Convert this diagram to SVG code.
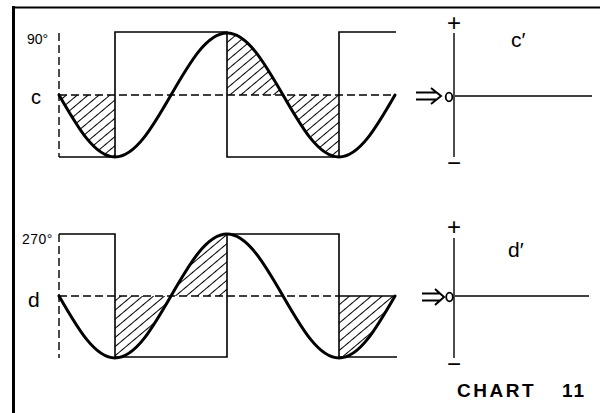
<svg xmlns="http://www.w3.org/2000/svg" width="600" height="413" viewBox="0 0 600 413">
<style>
.sq{fill:none;stroke:#000;stroke-width:1.6}
.dash{fill:none;stroke:#000;stroke-width:1.4;stroke-dasharray:8 4}
.curve{fill:none;stroke:#000;stroke-width:3;stroke-linecap:round}
.hatch{fill:url(#h);stroke:none}
.ax{fill:none;stroke:#000;stroke-width:1.4}
.lbl{font-family:"Liberation Sans",Arial,sans-serif;fill:#000}
.sign{font-family:"Liberation Sans",Arial,sans-serif;fill:#000;font-size:24px;text-anchor:middle}
.arr{fill:none;stroke:#000;stroke-width:2}
</style>
<defs>
<pattern id="h" width="7" height="7" patternUnits="userSpaceOnUse" patternTransform="rotate(50)">
<line x1="3.5" y1="0" x2="3.5" y2="7" stroke="#000" stroke-width="1"/>
</pattern>
</defs>
<rect width="600" height="413" fill="#fff"/>
<g id="frame">
<line x1="13.5" y1="6" x2="13.5" y2="413" stroke="#000" stroke-width="3"/>
<line x1="12" y1="7.5" x2="600" y2="7.5" stroke="#000" stroke-width="2"/>
</g>
<g id="panel-c">
<path class="hatch" d="M59,95 C77.3,126.8 94.7,157 115,157 L115,95 Z"/>
<path class="hatch" d="M227,95 L227,33 C247.3,33 264.7,63.2 283,95 Z"/>
<path class="hatch" d="M283,95 C301.3,126.8 318.7,157 339,157 L339,95 Z"/>
<line class="dash" x1="59" y1="33" x2="59" y2="157"/>
<line class="dash" x1="59" y1="95" x2="395" y2="95"/>
<path class="sq" d="M59,157 H115 V32 H227 V157 H339 V32 H396"/>
<path class="curve" d="M59,95 C77.3,126.8 94.7,157 115,157 C135.3,157 152.7,126.8 171,95 C189.3,63.2 206.7,33 227,33 C247.3,33 264.7,63.2 283,95 C301.3,126.8 318.7,157 339,157 C359.3,157 376.7,126.8 395,95"/>
<text class="lbl" x="27" y="44" font-size="14">90°</text>
<text class="lbl" x="31" y="104" font-size="20">c</text>
</g>
<g id="panel-d">
<path class="hatch" d="M115,296 L115,358 C135.3,358 152.7,327.8 171,296 Z"/>
<path class="hatch" d="M171,296 C189.3,264.2 206.7,234 227,234 L227,296 Z"/>
<path class="hatch" d="M339,296 L339,358 C359.3,358 376.7,327.8 395,296 Z"/>
<line class="dash" x1="59" y1="234" x2="59" y2="358"/>
<line class="dash" x1="59" y1="296" x2="339" y2="296"/>
<line class="sq" x1="339" y1="296" x2="396" y2="296"/>
<path class="sq" d="M59,234 H115 V357 H227 V234 H339 V357 H397"/>
<path class="curve" d="M59,296 C77.3,327.8 94.7,358 115,358 C135.3,358 152.7,327.8 171,296 C189.3,264.2 206.7,234 227,234 C247.3,234 264.7,264.2 283,296 C301.3,327.8 318.7,358 339,358 C359.3,358 376.7,327.8 395,296"/>
<text class="lbl" x="22" y="244" font-size="14" letter-spacing="0.5">270°</text>
<text class="lbl" x="28" y="307" font-size="21">d</text>
</g>
<g id="axis-c">
<line class="ax" x1="454" y1="33" x2="454" y2="157"/>
<line class="ax" x1="455" y1="96" x2="592" y2="96"/>
<ellipse cx="449" cy="97" rx="3.3" ry="4.3" fill="none" stroke="#000" stroke-width="1.8"/>
<text class="sign" x="454" y="31">+</text>
<text class="sign" x="454" y="171">−</text>
<text class="lbl" x="511" y="47" font-size="21">c′</text>
</g>
<g id="axis-d">
<line class="ax" x1="454" y1="238" x2="454" y2="358"/>
<line class="ax" x1="455" y1="296" x2="589" y2="296"/>
<ellipse cx="449.5" cy="297" rx="3.3" ry="4.3" fill="none" stroke="#000" stroke-width="1.8"/>
<text class="sign" x="454" y="235">+</text>
<text class="sign" x="454" y="372">−</text>
<text class="lbl" x="508" y="257" font-size="21">d′</text>
</g>
<g id="connectors">
<path class="arr" d="M416,92.5 H436 M416,99.5 H436 M431,88 L441,96 L431,104"/>
<path class="arr" d="M422,293.5 H440 M422,300.5 H440 M435,289 L444,297 L435,305"/>
</g>
<g id="title">
<text class="lbl" x="457" y="397" font-size="19" font-weight="bold" letter-spacing="2.5">CHART</text>
<text class="lbl" x="562" y="397" font-size="19" font-weight="bold" letter-spacing="2">11</text>
</g>
</svg>
